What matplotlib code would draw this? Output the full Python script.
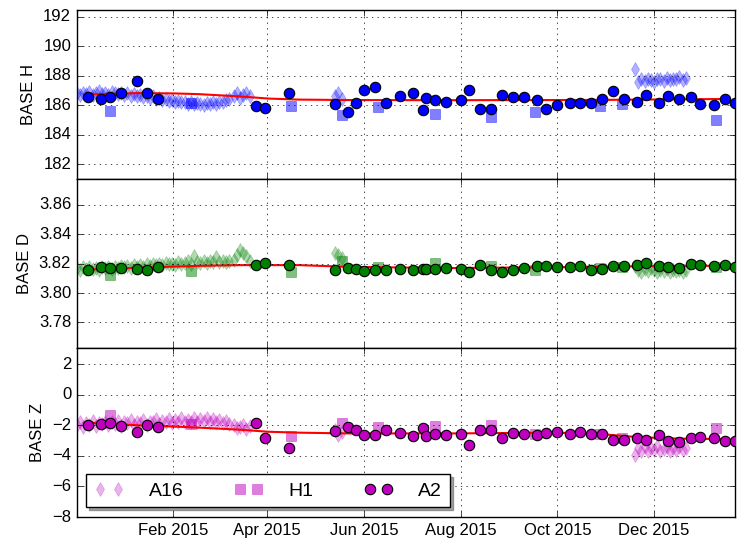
import numpy as np
import pandas as pd
import matplotlib
matplotlib.use('Agg')
import matplotlib.pyplot as plt
import matplotlib.dates as mdates
from matplotlib.ticker import FormatStrFormatter, MultipleLocator

plt.style.use('classic')
plt.rcParams['font.family'] = ['Liberation Sans', 'DejaVu Sans']

# A2 - regular weekly points
a2_dates = ['2014-12-09', '2014-12-17', '2014-12-23', '2014-12-30', '2015-01-09', '2015-01-15', '2015-01-22',
            '2015-03-25', '2015-03-31', '2015-04-15', '2015-05-14', '2015-05-22', '2015-05-27', '2015-06-01',
            '2015-06-08', '2015-06-15', '2015-06-24',
            '2015-07-02', '2015-07-08', '2015-07-10', '2015-07-16', '2015-07-23', '2015-08-01', '2015-08-06',
            '2015-08-13', '2015-08-20', '2015-08-27',
            '2015-09-03', '2015-09-10', '2015-09-18', '2015-09-24', '2015-10-01', '2015-10-09', '2015-10-15',
            '2015-10-22', '2015-10-29',
            '2015-11-05', '2015-11-12', '2015-11-20', '2015-11-26', '2015-12-04', '2015-12-10', '2015-12-17',
            '2015-12-24', '2015-12-30',
            '2016-01-08', '2016-01-15', '2016-01-21']
a2_H = [186.55, 186.45, 186.55, 186.8, 187.64, 186.84, 186.45,
        185.95, 185.8, 186.86, 186.05, 185.55, 186.15, 187.05, 187.23, 186.18, 186.65,
        186.8, 185.68, 186.5, 186.32, 186.2, 186.32, 187.0, 185.71, 185.76, 186.7,
        186.58, 186.58, 186.34, 185.71, 186.0, 186.13, 186.13, 186.13, 186.43,
        186.93, 186.45, 186.2, 186.66, 186.13, 186.65, 186.43, 186.58, 186.06,
        186.0, 186.4, 186.15]
a2_D = [3.8159, 3.8175, 3.8168, 3.817, 3.8166, 3.8159, 3.8175,
        3.8193, 3.8202, 3.8189, 3.8159, 3.817, 3.8164, 3.8152, 3.8159, 3.8159, 3.8166,
        3.8155, 3.8164, 3.8166, 3.8166, 3.817, 3.8166, 3.8141, 3.8189, 3.8159, 3.8145,
        3.8157, 3.8173, 3.8182, 3.8182, 3.8175, 3.8175, 3.8182, 3.8157, 3.8164,
        3.8186, 3.8184, 3.8189, 3.8202, 3.8186, 3.8175, 3.817, 3.8195, 3.8189,
        3.8182, 3.8189, 3.818]
a2_Z = [-1.98, -1.94, -1.85, -2.04, -2.45, -1.96, -2.09,
        -1.87, -2.84, -3.49, -2.39, -2.11, -2.32, -2.65, -2.65, -2.32, -2.52,
        -2.73, -2.19, -2.69, -2.58, -2.65, -2.58, -3.27, -2.28, -2.28, -2.8,
        -2.52, -2.58, -2.65, -2.52, -2.43, -2.58, -2.45, -2.58, -2.58,
        -2.93, -2.93, -2.84, -2.93, -2.63, -3.02, -3.1, -2.84, -2.76,
        -2.84, -3.02, -3.02]

# H1 - sparse points
h1_dates = ['2014-12-23', '2015-02-12', '2015-04-16', '2015-05-18', '2015-06-10', '2015-07-16',
            '2015-08-20', '2015-09-17', '2015-10-28', '2015-11-11', '2016-01-09']
h1_H = [185.61, 186.15, 185.95, 185.35, 185.9, 185.39, 185.23, 185.52, 185.95, 186.1, 185.0]
h1_D = [3.8125, 3.8152, 3.8141, 3.8215, 3.8175, 3.8205, 3.8182, 3.8155, 3.817, 3.818, 3.818]
h1_Z = [-1.35, -1.9, -2.73, -1.83, -2.1, -2.04, -2.0, -2.58, -2.58, -2.8, -2.15]

# A16 - dense runs
a16_dates = (list(pd.date_range('2014-12-02', '2015-03-09', freq='2D'))
             + list(pd.date_range('2015-03-11', '2015-03-21', freq='2D'))
             + list(pd.date_range('2015-05-14', '2015-05-18', freq='2D'))
             + list(pd.date_range('2015-11-19', '2015-12-21', freq='2D')))
a16_H = [186.8, 186.7, 186.85, 186.75, 186.9, 186.7, 186.8, 186.95, 186.75, 186.85,
         186.7, 186.9, 186.8, 186.75, 186.85, 186.7, 186.8, 186.65, 186.75, 186.6,
         186.7, 186.55, 186.6, 186.5, 186.6, 186.45, 186.5, 186.35, 186.45, 186.3,
         186.35, 186.25, 186.3, 186.2, 186.25, 186.1, 186.2, 186.05, 186.15, 186.1,
         186.0, 186.15, 186.05, 186.2, 186.1, 186.25, 186.2, 186.35, 186.4,
         186.6, 186.8, 186.5, 186.7, 186.85, 186.6,
         186.6, 186.8, 186.4,
         188.45, 187.6, 187.75, 187.65, 187.8, 187.7, 187.6, 187.8, 187.75, 187.65,
         187.85, 187.7, 187.8, 187.75, 187.9, 187.7, 187.85]
a16_D = [3.817, 3.8158, 3.8175, 3.8162, 3.818, 3.8165, 3.8172, 3.816, 3.8178, 3.8168,
         3.8175, 3.8165, 3.818, 3.817, 3.8185, 3.8175, 3.8182, 3.817, 3.8188, 3.8178,
         3.819, 3.818, 3.8195, 3.8185, 3.82, 3.819, 3.8198, 3.8188, 3.8205, 3.8195,
         3.82, 3.8192, 3.821, 3.8198, 3.8205, 3.8215, 3.82, 3.825, 3.821, 3.8202,
         3.8215, 3.8205, 3.822, 3.821, 3.8245, 3.8212, 3.8218, 3.8208, 3.8215,
         3.8225, 3.826, 3.829, 3.8275, 3.8255, 3.822,
         3.8275, 3.826, 3.824,
         3.8185, 3.816, 3.8145, 3.8165, 3.815, 3.817, 3.8155, 3.814, 3.816, 3.815,
         3.8165, 3.8145, 3.816, 3.815, 3.8155, 3.814, 3.8155]
a16_Z = [-1.95, -1.75, -2.1, -1.85, -1.95, -1.7, -2.05, -1.85, -1.9, -1.75,
         -2.0, -1.8, -1.9, -1.7, -2.05, -1.8, -1.85, -1.65, -1.95, -1.75,
         -1.85, -1.65, -1.95, -1.75, -1.8, -1.6, -1.9, -1.7, -1.8, -1.6,
         -1.85, -1.65, -1.75, -1.55, -1.8, -1.65, -1.75, -1.55, -1.8, -1.6,
         -1.7, -1.55, -1.8, -1.6, -1.75, -1.65, -1.85, -1.7, -1.9,
         -2.0, -2.2, -2.1, -1.95, -2.25, -2.05,
         -2.3, -2.6, -2.45,
         -3.95, -3.5, -3.65, -3.4, -3.7, -3.5, -3.6, -3.35, -3.7, -3.55,
         -3.45, -3.65, -3.5, -3.6, -3.4, -3.6, -3.5]

# red trend line
trend_dates = ['2014-12-09', '2015-01-10', '2015-02-01', '2015-02-17', '2015-03-14', '2015-04-02',
               '2015-04-21', '2015-05-23', '2015-07-25', '2015-10-01', '2015-10-29', '2015-11-22',
               '2015-12-17', '2016-01-15']
trend_H = [186.73, 186.82, 186.8, 186.75, 186.6, 186.45, 186.38, 186.35, 186.34, 186.35,
           186.36, 186.38, 186.4, 186.42]
trend_D = [3.816, 3.8172, 3.818, 3.8185, 3.819, 3.819, 3.819, 3.8178, 3.817, 3.8176,
           3.818, 3.8182, 3.8184, 3.8186]
trend_Z = [-1.82, -2.0, -2.08, -2.15, -2.28, -2.42, -2.48, -2.53, -2.53, -2.48,
           -2.58, -2.78, -2.87, -2.9]

labels = ['BASE H', 'BASE D', 'BASE Z']
colors = ['b', 'g', 'm']
ylims = [(181.0, 192.45), (3.7626, 3.8776), (-8.0, 3.06)]
ysteps = [2, 0.02, 2]

a2_dt = pd.to_datetime(a2_dates)
h1_dt = pd.to_datetime(h1_dates)
a16_dt = pd.to_datetime(a16_dates)
trend_dt = pd.to_datetime(trend_dates)

fig, axs = plt.subplots(3, 1, figsize=(7.5, 5.44), dpi=100, sharex=True, facecolor='w')
fig.subplots_adjust(left=0.1023, right=0.98, top=0.9816, bottom=0.0496, hspace=0)

series = [(a16_H, h1_H, a2_H, trend_H), (a16_D, h1_D, a2_D, trend_D), (a16_Z, h1_Z, a2_Z, trend_Z)]

for i, ax in enumerate(axs):
    a16, h1, a2, tr = series[i]
    c = colors[i]
    ax.plot(a16_dt, a16, 'd', color=c, mec=c, alpha=0.3, markersize=7.5, label='A16')
    ax.plot(h1_dt, h1, 's', color=c, mec=c, alpha=0.5, markersize=6.5, label='H1')
    ax.plot(trend_dt, tr, '-', color='r', lw=1.5, zorder=2.5)
    ax.plot(a2_dt, a2, 'o', color=c, mec='k', mew=0.8, markersize=7.5, label='A2', zorder=3)
    ax.set_ylim(*ylims[i])
    ax.yaxis.set_major_locator(MultipleLocator(ysteps[i]))
    ax.set_ylabel(labels[i], fontsize=12)
    ax.grid(True)
    ax.tick_params(labelsize=12)

axs[1].yaxis.set_major_formatter(FormatStrFormatter('%.2f'))

axs[2].set_xlim(pd.Timestamp('2014-12-02'), pd.Timestamp('2016-01-21'))
axs[2].xaxis.set_major_locator(mdates.MonthLocator(bymonth=[2, 4, 6, 8, 10, 12]))
axs[2].xaxis.set_major_formatter(mdates.DateFormatter('%b %Y'))

axs[2].legend(loc='lower left', ncol=3, numpoints=2, fontsize=14, shadow=True,
              fancybox=False, handlelength=1.5, handletextpad=1.3, columnspacing=2.6)

fig.savefig('out.png', dpi=100, facecolor='w')
